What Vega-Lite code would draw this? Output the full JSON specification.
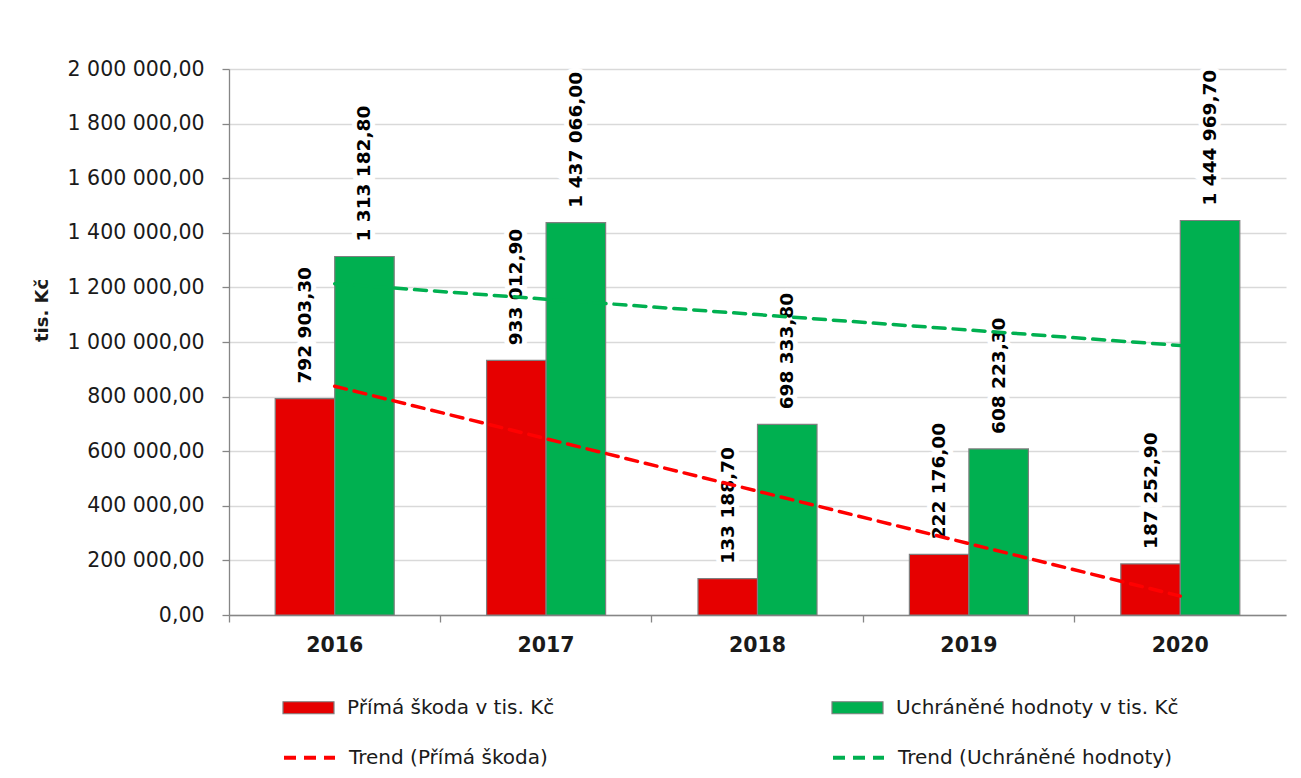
{
  "$schema": "https://vega.github.io/schema/vega-lite/v6.json",
  "width": 1057,
  "height": 546,
  "autosize": {"type": "none"},
  "padding": {"left": 229, "top": 69, "right": 15, "bottom": 163},
  "background": "white",
  "config": {
    "locale": {"number": {"decimal": ",", "thousands": " ", "grouping": [3], "currency": ["", ""]}},
    "font": "DejaVu Sans",
    "view": {"stroke": null},
    "axis": {"labelColor": "#1a1a1a", "titleColor": "#1a1a1a", "domainColor": "#868686", "tickColor": "#868686", "gridColor": "#d9d9d9", "gridWidth": 1.3}
  },
  "datasets": {
    "bars": [
      {"rok": "2016", "serie": "Přímá škoda v tis. Kč", "hodnota": 792903.3},
      {"rok": "2016", "serie": "Uchráněné hodnoty v tis. Kč", "hodnota": 1313182.8},
      {"rok": "2017", "serie": "Přímá škoda v tis. Kč", "hodnota": 933012.9},
      {"rok": "2017", "serie": "Uchráněné hodnoty v tis. Kč", "hodnota": 1437066.0},
      {"rok": "2018", "serie": "Přímá škoda v tis. Kč", "hodnota": 133188.7},
      {"rok": "2018", "serie": "Uchráněné hodnoty v tis. Kč", "hodnota": 698333.8},
      {"rok": "2019", "serie": "Přímá škoda v tis. Kč", "hodnota": 222176.0},
      {"rok": "2019", "serie": "Uchráněné hodnoty v tis. Kč", "hodnota": 608223.3},
      {"rok": "2020", "serie": "Přímá škoda v tis. Kč", "hodnota": 187252.9},
      {"rok": "2020", "serie": "Uchráněné hodnoty v tis. Kč", "hodnota": 1444969.7}
    ],
    "trend": [
      {"rok": "2016", "trend": "Trend (Přímá škoda)", "hodnota": 838134},
      {"rok": "2017", "trend": "Trend (Přímá škoda)", "hodnota": 645920},
      {"rok": "2018", "trend": "Trend (Přímá škoda)", "hodnota": 453707},
      {"rok": "2019", "trend": "Trend (Přímá škoda)", "hodnota": 261493},
      {"rok": "2020", "trend": "Trend (Přímá škoda)", "hodnota": 69279},
      {"rok": "2016", "trend": "Trend (Uchráněné hodnoty)", "hodnota": 1213409},
      {"rok": "2017", "trend": "Trend (Uchráněné hodnoty)", "hodnota": 1156882},
      {"rok": "2018", "trend": "Trend (Uchráněné hodnoty)", "hodnota": 1100355},
      {"rok": "2019", "trend": "Trend (Uchráněné hodnoty)", "hodnota": 1043828},
      {"rok": "2020", "trend": "Trend (Uchráněné hodnoty)", "hodnota": 987301}
    ]
  },
  "encoding": {
    "x": {
      "field": "rok", "type": "nominal",
      "scale": {"paddingInner": 0.437, "paddingOuter": 0.2185},
      "axis": {
        "title": null, "labelAngle": 0, "labelFontWeight": "bold", "labelFontSize": 20.5,
        "labelPadding": 13, "tickSize": 7, "bandPosition": -0.388,
        "grid": false, "domainWidth": 1.3, "tickWidth": 1.3
      }
    },
    "y": {
      "field": "hodnota", "type": "quantitative",
      "scale": {"domain": [0, 2000000], "nice": false},
      "axis": {
        "title": "tis. Kč", "titleFontWeight": "bold", "titleFontSize": 18, "titlePadding": 16, "titleY": 241,
        "format": ",.2f", "values": [0, 200000, 400000, 600000, 800000, 1000000, 1200000, 1400000, 1600000, 1800000, 2000000],
        "labelFontSize": 20.5, "labelPadding": 18, "tickSize": 7, "domainWidth": 1.3, "tickWidth": 1.3
      }
    }
  },
  "layer": [
    {
      "data": {"name": "bars"},
      "mark": {"type": "bar", "stroke": "#7f7f7f", "strokeWidth": 1.2},
      "encoding": {
        "xOffset": {"field": "serie", "type": "nominal", "scale": {"paddingInner": 0, "paddingOuter": 0}},
        "fill": {
          "field": "serie", "type": "nominal",
          "scale": {"domain": ["Přímá škoda v tis. Kč", "Uchráněné hodnoty v tis. Kč"], "range": ["#e60000", "#00b050"]},
          "legend": {
            "title": null, "orient": "none", "legendX": 53, "legendY": 612, "direction": "horizontal", "columns": 2,
            "columnPadding": 274, "symbolType": "M-1,-0.235H1V0.235H-1Z", "symbolSize": 2601,
            "symbolStrokeColor": "#7f7f7f", "symbolStrokeWidth": 1.2, "labelFontSize": 20, "labelColor": "#1a1a1a",
            "labelOffset": 12, "labelLimit": 400
          }
        }
      }
    },
    {
      "data": {"name": "bars"},
      "mark": {"type": "text", "angle": 270, "align": "left", "baseline": "middle", "dx": 15, "fontSize": 18.5, "fontWeight": "bold", "stroke": "white", "strokeWidth": 10, "fill": "white"},
      "encoding": {
        "xOffset": {"field": "serie", "type": "nominal", "scale": {"paddingInner": 0, "paddingOuter": 0}},
        "text": {"field": "hodnota", "type": "quantitative", "format": ",.2f"}
      }
    },
    {
      "data": {"name": "bars"},
      "mark": {"type": "text", "angle": 270, "align": "left", "baseline": "middle", "dx": 15, "fontSize": 18.5, "fontWeight": "bold", "fill": "#000000"},
      "encoding": {
        "xOffset": {"field": "serie", "type": "nominal", "scale": {"paddingInner": 0, "paddingOuter": 0}},
        "text": {"field": "hodnota", "type": "quantitative", "format": ",.2f"}
      }
    },
    {
      "data": {"name": "trend"},
      "mark": {"type": "line", "strokeWidth": 3.5, "strokeDash": [12, 8], "strokeCap": "round"},
      "encoding": {
        "stroke": {
          "field": "trend", "type": "nominal",
          "scale": {"domain": ["Trend (Přímá škoda)", "Trend (Uchráněné hodnoty)"], "range": ["#ff0000", "#00b050"]},
          "legend": {
            "title": null, "orient": "none", "legendX": 53, "legendY": 661, "direction": "horizontal", "columns": 2,
            "columnPadding": 277, "symbolType": "stroke", "symbolSize": 2601, "symbolStrokeWidth": 4,
            "symbolDash": [12, 8], "labelFontSize": 20, "labelColor": "#1a1a1a", "labelOffset": 12, "labelLimit": 400
          }
        }
      }
    }
  ]
}
